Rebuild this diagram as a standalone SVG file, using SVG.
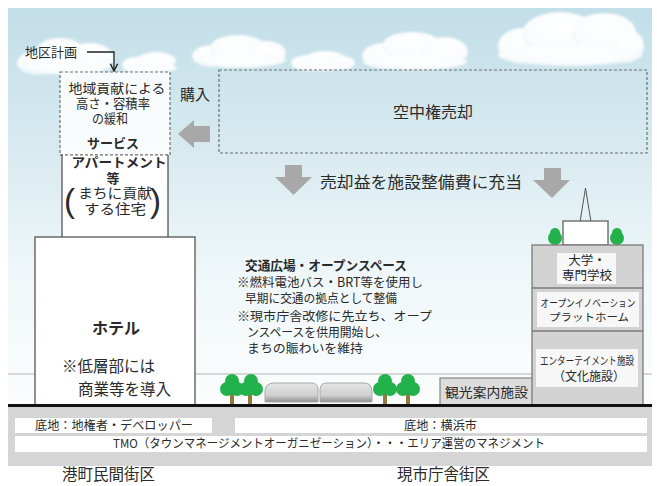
<svg xmlns="http://www.w3.org/2000/svg" width="657" height="486" viewBox="0 0 657 486">
  <defs>
    <linearGradient id="sky" x1="0" y1="0" x2="0" y2="1">
      <stop offset="0" stop-color="#c2dee8"/>
      <stop offset="0.35" stop-color="#d8eaf0"/>
      <stop offset="0.7" stop-color="#f1f8fa"/>
      <stop offset="1" stop-color="#fbfdfd"/>
    </linearGradient>
    <radialGradient id="puff" cx="0.5" cy="0.4" r="0.6">
      <stop offset="0" stop-color="#ffffff"/>
      <stop offset="0.75" stop-color="#fafcfd"/>
      <stop offset="1" stop-color="#e9f3f7"/>
    </radialGradient>
    <linearGradient id="car" x1="0" y1="0" x2="0" y2="1">
      <stop offset="0" stop-color="#e6e6e6"/>
      <stop offset="0.65" stop-color="#cfcfcf"/>
      <stop offset="1" stop-color="#8f8f8f"/>
    </linearGradient>
    <filter id="soft" x="-10%" y="-20%" width="120%" height="140%">
      <feGaussianBlur stdDeviation="1.3"/>
    </filter>
    <marker id="tip" viewBox="0 0 10 10" refX="9" refY="5" markerWidth="7" markerHeight="7" orient="auto">
      <path d="M1,1 L9,5 L1,9" fill="none" stroke="#222" stroke-width="1.6"/>
    </marker>
  </defs>
  <style>
    text { font-family: "Noto Sans CJK JP", "Noto Sans", sans-serif; fill: #2a2a2a; }
    .b { font-weight: bold; }
    .mid { text-anchor: middle; }
    .dash { fill: none; stroke: #6e6e6e; stroke-width: 1.2; stroke-dasharray: 3 2; }
    .bld { fill: #ffffff; stroke: #555555; stroke-width: 1.3; }
    .gry { fill: #d3d3d3; stroke: #7a7a7a; stroke-width: 1.3; }
    .lbl { fill: #f7f7f7; }
    .arw { fill: #a8a8a8; }
    .leaf { fill: #23b14b; }
    .trunk { fill: #8d7b3f; }
    .cloud { fill: url(#puff); filter: url(#soft); }
    .paren { font-family: "Liberation Sans", sans-serif; }
  </style>

  <!-- sky, horizon and ground -->
  <rect x="8" y="8" width="644" height="398" fill="url(#sky)"/>
  <line x1="8" y1="374" x2="652" y2="374" stroke="#b4b4b4" stroke-width="1"/>

  <!-- clouds -->
  <g id="clouds">
    <g class="cloud">
      <ellipse cx="38" cy="63" rx="21" ry="12"/>
      <ellipse cx="60" cy="52" rx="24" ry="14"/>
      <ellipse cx="90" cy="58" rx="24" ry="15"/>
      <ellipse cx="65" cy="66" rx="46" ry="9"/>
    </g>
    <g class="cloud">
      <ellipse cx="137" cy="65" rx="15" ry="8"/>
      <ellipse cx="156" cy="61" rx="20" ry="9"/>
      <ellipse cx="150" cy="68" rx="27" ry="5"/>
    </g>
    <g class="cloud">
      <ellipse cx="212" cy="56" rx="20" ry="11"/>
      <ellipse cx="238" cy="48" rx="28" ry="13"/>
      <ellipse cx="266" cy="53" rx="20" ry="12"/>
      <ellipse cx="240" cy="60" rx="46" ry="8"/>
    </g>
    <g class="cloud">
      <ellipse cx="308" cy="63" rx="17" ry="8"/>
      <ellipse cx="325" cy="59" rx="20" ry="8"/>
      <ellipse cx="342" cy="63" rx="13" ry="7"/>
      <ellipse cx="322" cy="66" rx="30" ry="5"/>
    </g>
    <g class="cloud">
      <ellipse cx="384" cy="56" rx="22" ry="13"/>
      <ellipse cx="412" cy="46" rx="30" ry="14"/>
      <ellipse cx="445" cy="52" rx="23" ry="15"/>
      <ellipse cx="415" cy="62" rx="52" ry="8"/>
    </g>
    <g class="cloud">
      <ellipse cx="523" cy="46" rx="25" ry="18"/>
      <ellipse cx="560" cy="34" rx="38" ry="22"/>
      <ellipse cx="604" cy="33" rx="32" ry="20"/>
      <ellipse cx="626" cy="46" rx="18" ry="17"/>
      <ellipse cx="570" cy="55" rx="72" ry="11"/>
    </g>
  </g>

  <!-- district plan label -->
  <g id="district-plan">
    <text x="25" y="57" font-size="13">地区計画</text>
  </g>

  <!-- air rights sale -->
  <g id="air-rights">
    <rect class="dash" x="219" y="70" width="428" height="83"/>
    <text class="mid" x="433" y="118" font-size="16">空中権売却</text>
  </g>

  <!-- relaxed height / floor-area zone -->
  <g id="relaxation">
    <rect x="60" y="72" width="110" height="83" fill="#ffffff" fill-opacity="0.85"/>
    <rect class="dash" x="60" y="72" width="110" height="83"/>
    <text class="mid" x="117" y="93" font-size="13" textLength="97" lengthAdjust="spacingAndGlyphs">地域貢献による</text>
    <text class="mid" x="113" y="108" font-size="13" textLength="74" lengthAdjust="spacingAndGlyphs">高さ・容積率</text>
    <text class="mid" x="110" y="123" font-size="13" textLength="36" lengthAdjust="spacingAndGlyphs">の緩和</text>
    <text class="mid b" x="113" y="148" font-size="13" textLength="52" lengthAdjust="spacingAndGlyphs">サービス</text>
  </g>

  <!-- serviced apartments -->
  <g id="apartments">
    <rect x="62" y="155" width="106" height="82" fill="#ffffff"/>
    <path d="M62,155 V238 M168,155 V238" fill="none" stroke="#555" stroke-width="1.3"/>
    <line class="dash" x1="60" y1="155" x2="170" y2="155"/>
    <text class="mid b" x="119" y="167" font-size="13" textLength="95" lengthAdjust="spacingAndGlyphs">アパートメント</text>
    <text class="mid b" x="113" y="183" font-size="13">等</text>
    <text class="paren" x="64" y="212" font-size="33">(</text>
    <text class="paren" x="150" y="212" font-size="33">)</text>
    <text class="mid" x="115" y="198" font-size="14" textLength="74" lengthAdjust="spacingAndGlyphs">まちに貢献</text>
    <text class="mid" x="115" y="214" font-size="14" textLength="62" lengthAdjust="spacingAndGlyphs">する住宅</text>
  </g>

  <!-- hotel -->
  <g id="hotel">
    <rect class="bld" x="35" y="237" width="160" height="169"/>
    <text class="mid b" x="116" y="334" font-size="16">ホテル</text>
    <text x="62" y="372" font-size="15.5">※低層部には</text>
    <text x="78" y="395" font-size="15.5">商業等を導入</text>
  </g>

  <!-- transport plaza / open space -->
  <g id="plaza">
    <text class="b" x="245" y="270" font-size="13" textLength="162" lengthAdjust="spacingAndGlyphs">交通広場・オープンスペース</text>
    <text x="237" y="287" font-size="12.5" textLength="186" lengthAdjust="spacingAndGlyphs">※燃料電池バス・BRT等を使用し</text>
    <text x="245" y="303" font-size="12.5" textLength="152" lengthAdjust="spacingAndGlyphs">早期に交通の拠点として整備</text>
    <text x="237" y="321" font-size="12.5" textLength="195" lengthAdjust="spacingAndGlyphs">※現市庁舎改修に先立ち、オープ</text>
    <text x="247" y="337" font-size="12.5" textLength="140" lengthAdjust="spacingAndGlyphs">ンスペースを供用開始し、</text>
    <text x="247" y="353" font-size="12.5" textLength="116" lengthAdjust="spacingAndGlyphs">まちの賑わいを維持</text>
  </g>

  <!-- street trees -->
  <g id="trees-west">
    <rect class="trunk" x="230" y="392" width="4" height="12"/>
    <rect class="trunk" x="248" y="392" width="4" height="12"/>
    <circle class="leaf" cx="227" cy="389" r="7"/>
    <circle class="leaf" cx="237" cy="389" r="7"/>
    <circle class="leaf" cx="232" cy="381" r="7"/>
    <circle class="leaf" cx="246" cy="389" r="7"/>
    <circle class="leaf" cx="256" cy="389" r="7"/>
    <circle class="leaf" cx="251" cy="381" r="7"/>
  </g>
  <g id="trees-east">
    <rect class="trunk" x="383" y="392" width="4" height="12"/>
    <rect class="trunk" x="406" y="392" width="4" height="12"/>
    <circle class="leaf" cx="380" cy="389" r="7"/>
    <circle class="leaf" cx="390" cy="389" r="7"/>
    <circle class="leaf" cx="385" cy="381" r="7"/>
    <circle class="leaf" cx="403" cy="389" r="7"/>
    <circle class="leaf" cx="413" cy="389" r="7"/>
    <circle class="leaf" cx="408" cy="381" r="7"/>
  </g>

  <!-- articulated bus -->
  <g id="bus">
    <path d="M265,402 V392 Q265,383 274,383 H312 Q318,383 318,390 V402 Z" fill="url(#car)" stroke="#a9a9a9" stroke-width="1"/>
    <path d="M320,402 V390 Q320,383 327,383 H364 Q372,383 372,392 V402 Z" fill="url(#car)" stroke="#a9a9a9" stroke-width="1"/>
  </g>

  <!-- tourist information -->
  <g id="tourist-info">
    <rect x="440" y="378" width="93" height="28" fill="#dcdcdc" stroke="#858585" stroke-width="1.2"/>
    <text x="445" y="397" font-size="13" textLength="83" lengthAdjust="spacingAndGlyphs">観光案内施設</text>
  </g>

  <!-- university / innovation / entertainment building -->
  <g id="civic-building">
    <polyline points="580,222 585.5,188 591,222" fill="none" stroke="#555" stroke-width="1"/>
    <rect x="563" y="221" width="45" height="24" fill="#ffffff" stroke="#555" stroke-width="1.2"/>
    <circle class="leaf" cx="555" cy="238" r="7"/>
    <circle class="leaf" cx="555" cy="233" r="5"/>
    <circle class="leaf" cx="617" cy="238" r="7"/>
    <circle class="leaf" cx="617" cy="233" r="5"/>
    <rect class="gry" x="532" y="245" width="111" height="161"/>
    <line x1="532" y1="288" x2="643" y2="288" stroke="#7a7a7a" stroke-width="1.3"/>
    <line x1="532" y1="331" x2="643" y2="331" stroke="#7a7a7a" stroke-width="1.3"/>
    <rect class="lbl" x="557" y="253" width="59" height="31"/>
    <text class="mid" x="587" y="265" font-size="12.5">大学・</text>
    <text class="mid" x="587" y="280" font-size="12.5">専門学校</text>
    <rect class="lbl" x="537" y="292" width="102" height="35"/>
    <text class="mid" x="588" y="307" font-size="10.5" textLength="95" lengthAdjust="spacingAndGlyphs">オープンイノベーション</text>
    <text class="mid" x="589" y="321" font-size="10.5" textLength="80" lengthAdjust="spacingAndGlyphs">プラットホーム</text>
    <rect class="lbl" x="536" y="349" width="102" height="38"/>
    <text class="mid" x="587" y="365" font-size="11" textLength="94" lengthAdjust="spacingAndGlyphs">エンターテイメント施設</text>
    <text class="mid" x="589" y="381" font-size="12.5" textLength="72" lengthAdjust="spacingAndGlyphs">（文化施設）</text>
  </g>

  <!-- ground line and land ownership -->
  <line x1="8" y1="405.5" x2="652" y2="405.5" stroke="#111" stroke-width="3"/>
  <g id="land-base">
    <rect x="8" y="407" width="644" height="59" fill="#d5d5d5"/>
    <rect x="15" y="418" width="197" height="15" fill="#ffffff"/>
    <text x="35" y="430" font-size="12" textLength="158" lengthAdjust="spacingAndGlyphs">底地：地権者・デベロッパー</text>
    <rect x="235" y="418" width="412" height="15" fill="#ffffff"/>
    <text x="404" y="430" font-size="12.5" textLength="73" lengthAdjust="spacingAndGlyphs">底地：横浜市</text>
    <rect x="15" y="436" width="632" height="16" fill="#ffffff"/>
    <text x="113" y="448" font-size="12" textLength="432" lengthAdjust="spacingAndGlyphs">TMO（タウンマネージメントオーガニゼーション）・・・エリア運営のマネジメント</text>
  </g>

  <!-- district names -->
  <g id="district-names">
    <text x="62" y="480" font-size="15.5">港町民間街区</text>
    <text x="397" y="480" font-size="15.5">現市庁舎街区</text>
  </g>

  <!-- connectors -->
  <g id="connectors">
    <polyline points="87,52 114,52 114,71" fill="none" stroke="#222" stroke-width="1.3" marker-end="url(#tip)"/>
    <text x="180" y="100" font-size="15">購入</text>
    <path class="arw" d="M178,134 L194,120 V126 H210 V142 H194 V148 Z"/>
    <path class="arw" d="M285,165 H302 V177 H312 L293.5,195 L275,177 H285 Z"/>
    <path class="arw" d="M544,168 H561 V180 H570 L552,198 L533,180 H544 Z"/>
    <text x="320" y="188" font-size="16" textLength="202" lengthAdjust="spacingAndGlyphs">売却益を施設整備費に充当</text>
  </g>
</svg>
